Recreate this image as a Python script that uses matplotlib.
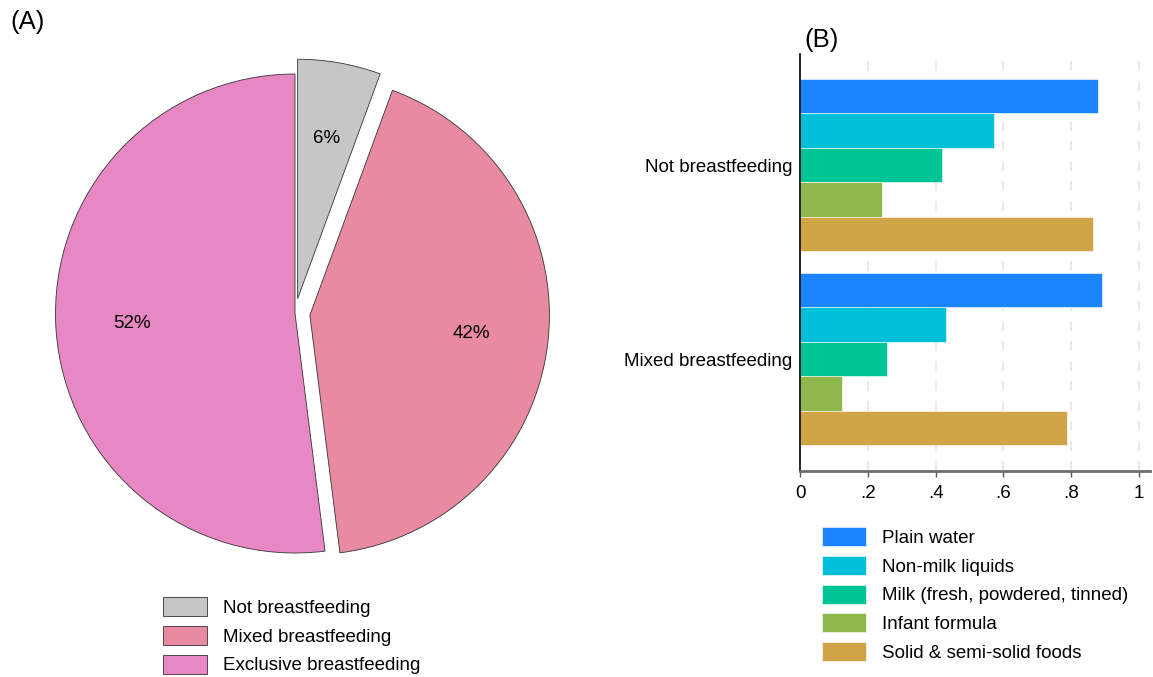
import matplotlib
matplotlib.use("Agg")
import matplotlib.pyplot as plt
import numpy as np

plt.rcParams['font.family'] = ['Liberation Sans', 'DejaVu Sans']

# Panel A: breastfeeding status shares (%)
status_labels = ["Not breastfeeding", "Mixed breastfeeding", "Exclusive breastfeeding"]
status_shares = [5.6, 42.4, 52.0]
status_colors = ["#C6C6C6", "#E88AA0", "#E787C4"]
status_explode = [0.0626, 0.0626, 0.0]

# Panel B: proportion receiving each item, by breastfeeding status
groups = ["Not breastfeeding", "Mixed breastfeeding"]
items = ["Plain water", "Non-milk liquids", "Milk (fresh, powdered, tinned)",
         "Infant formula", "Solid & semi-solid foods"]
item_colors = ["#1A85FF", "#00BFD9", "#00C496", "#8EB84C", "#D0A546"]
values_not_bf = [0.880, 0.573, 0.420, 0.241, 0.865]
values_mixed_bf = [0.891, 0.431, 0.257, 0.125, 0.786]
x_ticks = [0, 0.2, 0.4, 0.6, 0.8, 1.0]
x_ticklabels = ["0", ".2", ".4", ".6", ".8", "1"]

FS = 13.5
W, H = 1153, 677
fig = plt.figure(figsize=(W / 100, H / 100), dpi=100)

def px_axes(x0, y0, x1, y1):
    return fig.add_axes([x0 / W, 1 - y1 / H, (x1 - x0) / W, (y1 - y0) / H])

# ---- Panel A: pie ----
cx, cy, half = 295.0, 313.5, 255
axA = px_axes(cx - half, cy - half, cx + half, cy + half)
wedges, texts, autotexts = axA.pie(
    status_shares, colors=status_colors, explode=status_explode,
    startangle=90, counterclock=False, autopct='%1.0f%%', pctdistance=0.68,
    wedgeprops=dict(edgecolor="#333333", linewidth=0.6),
    textprops=dict(fontsize=FS, color="black"))
lim = half / 239.5
axA.set_xlim(-lim, lim)
axA.set_ylim(-lim, lim)
axA.set_aspect('equal')
axA.axis('off')

fig.text(10 / W, 1 - 22 / H, "(A)", fontsize=18.5, va='center', ha='left')
fig.legend(wedges, status_labels, loc='upper left',
           bbox_to_anchor=(163 / W, 1 - 597 / H), frameon=False,
           fontsize=FS, handlelength=2.35, handleheight=1.18,
           handletextpad=0.85, labelspacing=0.48, borderpad=0, borderaxespad=0)

# ---- Panel B: horizontal grouped bars ----
axB = px_axes(800, 54, 1150, 471)
n_items = len(items)
group_gap = 0.64
top_margin = 0.727
group_starts = [top_margin, top_margin + n_items + group_gap]
all_values = [values_not_bf, values_mixed_bf]
for gi, vals in enumerate(all_values):
    for ii, v in enumerate(vals):
        y = group_starts[gi] + ii + 0.5
        axB.barh(y, v, height=1.0, color=item_colors[ii],
                 edgecolor="white", linewidth=0.4,
                 label=items[ii] if gi == 0 else None)
axB.set_ylim(12.12, 0)
axB.set_xlim(0, 1.032)
axB.set_yticks([s + n_items / 2 for s in group_starts])
axB.set_yticklabels(groups, fontsize=FS)
axB.tick_params(axis='y', length=0, pad=5.5)
axB.set_xticks(x_ticks)
axB.set_xticklabels(x_ticklabels, fontsize=FS)
axB.tick_params(axis='x', length=4.5, width=1, color="#555555", pad=5.5)
for xv in x_ticks[1:]:
    axB.axvline(xv, color="#E6E6E6", linewidth=1.2, linestyle=(0, (6, 6)), zorder=0)
axB.spines['top'].set_visible(False)
axB.spines['right'].set_visible(False)
axB.spines['left'].set_color("black")
axB.spines['left'].set_linewidth(1.2)
axB.spines['bottom'].set_color("#6E6E6E")
axB.spines['bottom'].set_linewidth(2)
axB.set_axisbelow(True)

fig.text(804 / W, 1 - 40 / H, "(B)", fontsize=18.5, va='center', ha='left')
handles, labels = axB.get_legend_handles_labels()
fig.legend(handles, labels, loc='upper left',
           bbox_to_anchor=(822 / W, 1 - 527 / H), frameon=False,
           fontsize=FS, handlelength=2.35, handleheight=1.18,
           handletextpad=0.85, labelspacing=0.48, borderpad=0, borderaxespad=0)

fig.savefig("out.png", dpi=100)
